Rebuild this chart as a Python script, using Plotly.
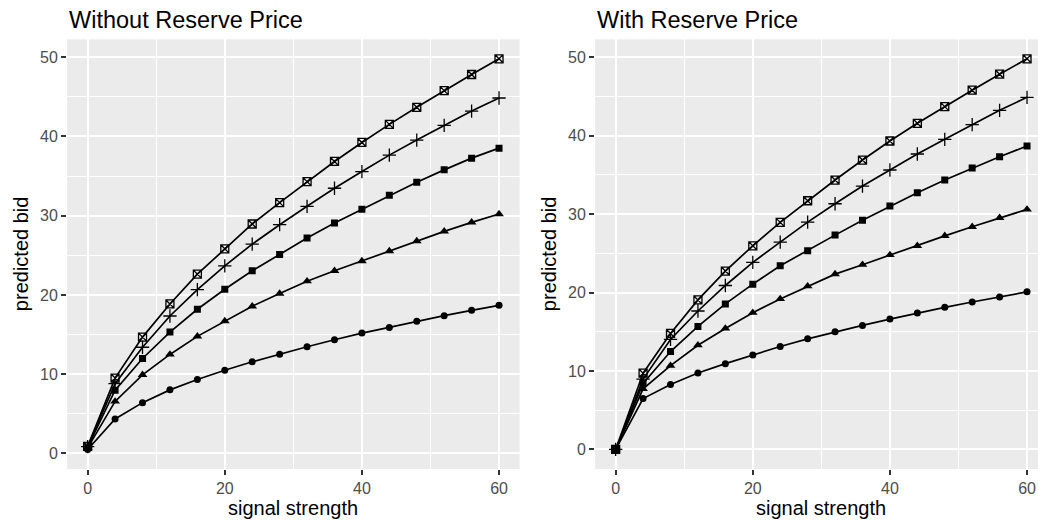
import plotly.graph_objects as go

# signal strength grid shared by every curve
signal = [0, 4, 8, 12, 16, 20, 24, 28, 32, 36, 40, 44, 48, 52, 56, 60]

# predicted bids, auction without a reserve price
no_res_circle = [0.5, 4.35, 6.41, 8.02, 9.32, 10.5, 11.56, 12.53, 13.46, 14.35, 15.19, 15.9, 16.67, 17.38, 18.06, 18.69]
no_res_triangle = [0.7, 6.56, 9.92, 12.49, 14.77, 16.71, 18.57, 20.17, 21.73, 23.04, 24.28, 25.53, 26.8, 28.02, 29.16, 30.21]
no_res_square = [0.8, 7.98, 11.98, 15.32, 18.19, 20.72, 23.04, 25.1, 27.17, 29.07, 30.8, 32.57, 34.22, 35.78, 37.26, 38.52]
no_res_plus = [0.85, 8.8, 13.4, 17.34, 20.68, 23.67, 26.41, 28.86, 31.18, 33.46, 35.57, 37.64, 39.54, 41.39, 43.2, 44.85]
no_res_boxx = [0.9, 9.51, 14.68, 18.86, 22.62, 25.82, 28.95, 31.65, 34.3, 36.84, 39.24, 41.52, 43.67, 45.78, 47.81, 49.79]

# predicted bids, auction with a reserve price
res_circle = [0.0, 6.49, 8.29, 9.74, 10.94, 12.05, 13.12, 14.1, 15.0, 15.81, 16.62, 17.39, 18.12, 18.8, 19.44, 20.09]
res_triangle = [0.0, 7.72, 10.68, 13.29, 15.43, 17.44, 19.19, 20.81, 22.35, 23.55, 24.8, 25.96, 27.23, 28.38, 29.53, 30.6]
res_square = [0.0, 8.43, 12.48, 15.68, 18.55, 21.07, 23.42, 25.32, 27.32, 29.23, 31.02, 32.72, 34.34, 35.87, 37.32, 38.68]
res_plus = [0.0, 8.97, 14.02, 17.65, 20.9, 23.85, 26.43, 28.98, 31.32, 33.57, 35.62, 37.66, 39.53, 41.4, 43.23, 44.89]
res_boxx = [0.0, 9.72, 14.79, 19.06, 22.74, 25.96, 28.94, 31.7, 34.34, 36.89, 39.32, 41.57, 43.7, 45.79, 47.83, 49.79]

panel_titles = ["Without Reserve Price", "With Reserve Price"]
x_title = "signal strength"
y_title = "predicted bid"

W, H = 1038, 523
FONT = "Liberation Sans, Arial, Helvetica, sans-serif"
BG = "#EBEBEB"

# marker style per curve: (symbol, size, outline width)
styles = [
    ("circle", 7, 0),
    ("triangle-up", 8.5, 0),
    ("square", 7, 0),
    ("cross-thin-open", 9.5, 1.3),
    ("square-x-open", 8, 1.3),
]

panels = [
    [no_res_circle, no_res_triangle, no_res_square, no_res_plus, no_res_boxx],
    [res_circle, res_triangle, res_square, res_plus, res_boxx],
]

fig = go.Figure()
for p, series in enumerate(panels):
    xa = "x" if p == 0 else "x2"
    ya = "y" if p == 0 else "y2"
    for vals, (sym, size, lw) in zip(series, styles):
        fig.add_trace(go.Scatter(
            x=signal, y=vals, xaxis=xa, yaxis=ya,
            mode="lines+markers",
            line=dict(color="black", width=1.7),
            marker=dict(symbol=sym, size=size, color="black",
                        line=dict(width=lw, color="black")),
            showlegend=False, hoverinfo="x+y",
        ))


def padded(series):
    lo = min(min(s) for s in series)
    hi = max(max(s) for s in series)
    pad = 0.05 * (hi - lo)
    return [lo - pad, hi + pad]


# panel placement in pixels
left_dom = [67.1 / W, 519.6 / W]
right_dom = [595.1 / W, 1.0]
y_dom = [1 - 469.0 / H, 1 - 39.3 / H]

xpad = 0.05 * (max(signal) - min(signal))
x_rng_left = [min(signal) - xpad, max(signal) + xpad]
x_rng_right = [min(signal) - xpad, 61.6]

axis_common = dict(
    showgrid=True, gridcolor="white", gridwidth=2,
    zeroline=False, showline=False,
    ticks="outside", ticklen=5, tickwidth=1.6, tickcolor="#333333",
    tickfont=dict(family=FONT, size=16, color="#4D4D4D"),
)


def minor(step):
    return dict(dtick=step, showgrid=True, gridcolor="white", gridwidth=1)


fig.update_layout(
    width=W, height=H,
    margin=dict(l=0, r=0, t=0, b=0),
    paper_bgcolor="white", plot_bgcolor=BG,
    font=dict(family=FONT),
    xaxis=dict(domain=left_dom, range=x_rng_left, tick0=0, dtick=20,
               anchor="y", minor=minor(10), **axis_common),
    yaxis=dict(domain=y_dom, range=padded(panels[0]), tick0=0, dtick=10,
               anchor="x", minor=minor(5), **axis_common),
    xaxis2=dict(domain=right_dom, range=x_rng_right, tick0=0, dtick=20,
                anchor="y2", minor=minor(10), **axis_common),
    yaxis2=dict(domain=y_dom, range=padded(panels[1]), tick0=0, dtick=10,
                anchor="x2", minor=minor(5), **axis_common),
)

annotations = []
for p, dom in enumerate([left_dom, [595.1 / W, 1047.6 / W]]):
    annotations.append(dict(
        text=panel_titles[p], xref="paper", yref="paper",
        x=dom[0], y=1 - 20.0 / H, xanchor="left", yanchor="middle",
        showarrow=False, font=dict(family=FONT, size=23.5, color="black"),
    ))
    annotations.append(dict(
        text=x_title, xref="paper", yref="paper",
        x=(dom[0] + dom[1]) / 2, y=1 - 507.5 / H, xanchor="center", yanchor="middle",
        showarrow=False, font=dict(family=FONT, size=20, color="black"),
    ))
    annotations.append(dict(
        text=y_title, xref="paper", yref="paper",
        x=(21.0 + 528.0 * p) / W, y=(y_dom[0] + y_dom[1]) / 2,
        xanchor="center", yanchor="middle", textangle=-90,
        showarrow=False, font=dict(family=FONT, size=20, color="black"),
    ))
fig.update_layout(annotations=annotations)

fig.write_html("out.html")
